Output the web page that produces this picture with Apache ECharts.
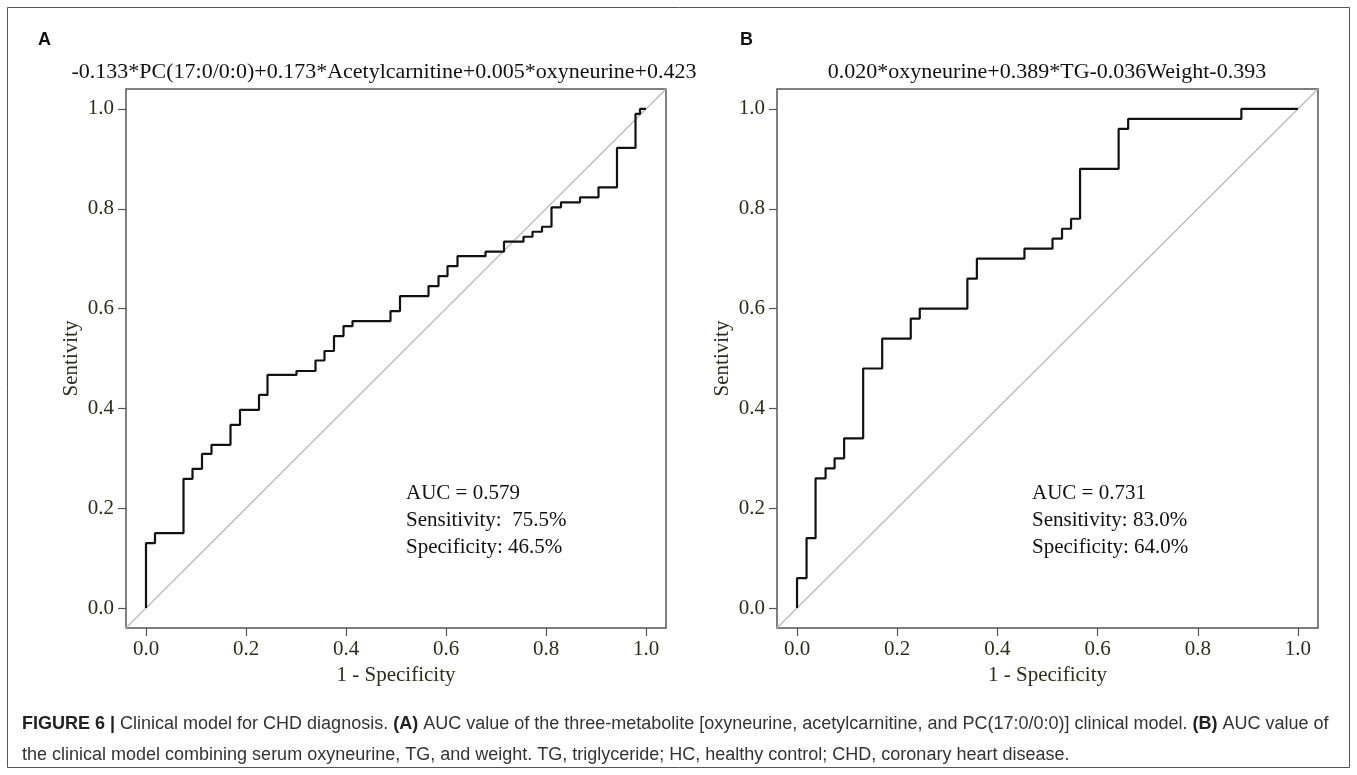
<!DOCTYPE html>
<html>
<head>
<meta charset="utf-8">
<script src="https://cdn.jsdelivr.net/npm/echarts@6/dist/echarts.min.js"></script>
<style>html,body{margin:0;padding:0;background:#fff}#c{width:1357px;height:775px}</style>
</head>
<body>
<div id="c"></div>
<script>
// ---- data ----
const tickValues = [0, 0.2, 0.4, 0.6, 0.8, 1.0];
const titleA = '-0.133*PC(17:0/0:0)+0.173*Acetylcarnitine+0.005*oxyneurine+0.423';
const titleB = '0.020*oxyneurine+0.389*TG-0.036Weight-0.393';
// ROC A: x where the curve steps up, and sensitivity reached there
const rocAx = [0, 0, 0.018, 0.075, 0.093, 0.112, 0.131, 0.169, 0.188, 0.226, 0.243, 0.301, 0.339, 0.357, 0.376, 0.395, 0.413, 0.489, 0.508, 0.565, 0.585, 0.603, 0.623, 0.679, 0.716, 0.755, 0.773, 0.792, 0.811, 0.830, 0.868, 0.905, 0.942, 0.979, 0.988, 1.0];
const rocAy = [0, 0.13, 0.15, 0.259, 0.279, 0.309, 0.327, 0.367, 0.397, 0.427, 0.467, 0.475, 0.496, 0.515, 0.545, 0.565, 0.575, 0.595, 0.625, 0.645, 0.665, 0.685, 0.705, 0.714, 0.734, 0.744, 0.754, 0.764, 0.803, 0.813, 0.823, 0.843, 0.922, 0.99, 1.0, 1.0];
// ROC B
const rocBx = [0, 0, 0.019, 0.037, 0.057, 0.075, 0.094, 0.132, 0.17, 0.227, 0.245, 0.34, 0.359, 0.454, 0.51, 0.529, 0.547, 0.565, 0.642, 0.661, 0.887, 1.0];
const rocBy = [0, 0.06, 0.14, 0.26, 0.28, 0.30, 0.34, 0.48, 0.54, 0.58, 0.60, 0.66, 0.70, 0.72, 0.74, 0.76, 0.78, 0.88, 0.96, 0.98, 1.0, 1.0];
const statsA = ['AUC = 0.579', 'Sensitivity:  75.5%', 'Specificity: 46.5%'];
const statsB = ['AUC = 0.731', 'Sensitivity: 83.0%', 'Specificity: 64.0%'];
const refLine = [-0.04, 1.04];

// build staircase: move horizontally to x_i then vertically to y_i
function stair(xs, ys) {
  const pts = [[xs[0], ys[0]]];
  for (let i = 1; i < xs.length; i++) {
    pts.push([xs[i], ys[i - 1]]);
    pts.push([xs[i], ys[i]]);
  }
  return pts;
}

const serif = 'Liberation Serif, Times New Roman, serif';
const olive = '#2d2d1c';
const chart = echarts.init(document.getElementById('c'), null, {renderer: 'canvas'});

function axes(gi) {
  const common = {
    type: 'value', gridIndex: gi, min: -0.04, max: 1.04,
    splitLine: {show: false},
    axisLine: {show: false, onZero: false},
    axisTick: {show: true, inside: false, length: 8, customValues: tickValues, lineStyle: {color: '#555', width: 1.2}},
    axisLabel: {customValues: tickValues, formatter: v => v.toFixed(1), color: olive, fontFamily: serif, fontSize: 21},
    nameLocation: 'middle',
    nameTextStyle: {color: olive, fontFamily: serif, fontSize: 21}
  };
  return {
    x: Object.assign({}, common, {name: '1 - Specificity', nameGap: 30, axisLabel: Object.assign({}, common.axisLabel, {margin: 11})}),
    y: Object.assign({}, common, {name: 'Sentivity', nameGap: 44, axisLabel: Object.assign({}, common.axisLabel, {margin: 12})})
  };
}
const aA = axes(0), aB = axes(1);

function statsText(lines, x) {
  return lines.map((t, i) => ({
    type: 'text', left: x, top: 483 + i * 27,
    style: {text: t, fill: '#111', font: '21px ' + serif}
  }));
}

const capFont = 'Liberation Sans, Arial, sans-serif';
const option = {
  animation: false,
  grid: [
    {left: 126, top: 89, width: 540, height: 539, show: true, borderColor: '#555', borderWidth: 1.5, backgroundColor: '#fff'},
    {left: 777, top: 89, width: 541, height: 539, show: true, borderColor: '#555', borderWidth: 1.5, backgroundColor: '#fff'}
  ],
  xAxis: [aA.x, aB.x],
  yAxis: [aA.y, aB.y],
  series: [
    {type: 'line', xAxisIndex: 0, yAxisIndex: 0, data: [[refLine[0], refLine[0]], [refLine[1], refLine[1]]], symbol: 'none', lineStyle: {color: '#b8b8b8', width: 1.2}},
    {type: 'line', xAxisIndex: 0, yAxisIndex: 0, data: stair(rocAx, rocAy), symbol: 'none', lineStyle: {color: '#111', width: 2.2}},
    {type: 'line', xAxisIndex: 1, yAxisIndex: 1, data: [[refLine[0], refLine[0]], [refLine[1], refLine[1]]], symbol: 'none', lineStyle: {color: '#b8b8b8', width: 1.2}},
    {type: 'line', xAxisIndex: 1, yAxisIndex: 1, data: stair(rocBx, rocBy), symbol: 'none', lineStyle: {color: '#111', width: 2.2}}
  ],
  graphic: [
    {type: 'rect', shape: {x: 7.5, y: 7.5, width: 1342, height: 760}, style: {fill: 'none', stroke: '#555', lineWidth: 1}, z: -1},
    {type: 'text', left: 38, top: 31, style: {text: 'A', fill: '#111', font: 'bold 18px Liberation Sans, Arial, sans-serif'}},
    {type: 'text', left: 740, top: 31, style: {text: 'B', fill: '#111', font: 'bold 18px Liberation Sans, Arial, sans-serif'}},
    {type: 'text', x: 384, y: 72, style: {text: titleA, fill: '#111', font: '22px ' + serif, align: 'center', verticalAlign: 'middle'}},
    {type: 'text', x: 1047, y: 72, style: {text: titleB, fill: '#111', font: '22px ' + serif, align: 'center', verticalAlign: 'middle'}},
    ...statsText(statsA, 406),
    ...statsText(statsB, 1032),
    {type: 'text', left: 22, top: 709, style: {
      text: '{b|FIGURE 6 |} Clinical model for CHD diagnosis. {b|(A)} AUC value of the three-metabolite [oxyneurine, acetylcarnitine, and PC(17:0/0:0)] clinical model. {b|(B)} AUC value of\nthe clinical model combining serum oxyneurine, TG, and weight. TG, triglyceride; HC, healthy control; CHD, coronary heart disease.',
      fill: '#333', font: '18px ' + capFont, lineHeight: 31,
      rich: {b: {fontWeight: 'bold', fill: '#222', fontFamily: capFont, fontSize: 18, lineHeight: 31}}
    }}
  ]
};
chart.setOption(option);
</script>
</body>
</html>
